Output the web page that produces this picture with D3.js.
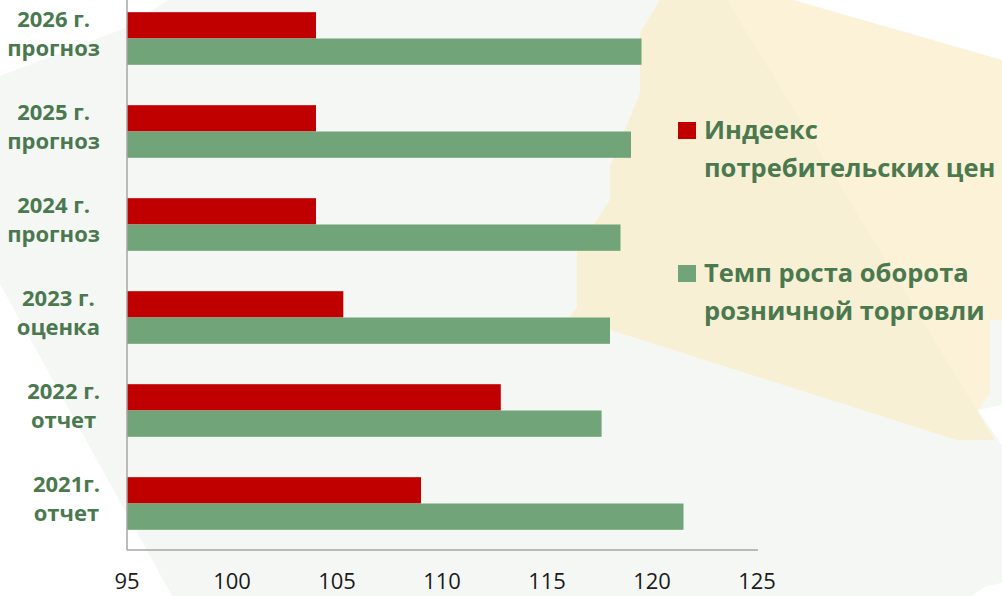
<!DOCTYPE html>
<html>
<head>
<meta charset="utf-8">
<script src="https://cdn.jsdelivr.net/npm/d3@7"></script>
<style>
  html, body { margin: 0; padding: 0; background: #fff; }
  svg { display: block; font-family: "Open Sans", sans-serif; }
</style>
</head>
<body>
<svg id="chart" width="1002" height="596"></svg>
<script>
// categories, top to bottom as drawn
const categories = ["2026 г.|прогноз", "2025 г.|прогноз", "2024 г.|прогноз", "2023 г.|оценка", "2022 г.|отчет", "2021г.|отчет"];
const cpiValues = [104.0, 104.0, 104.0, 105.3, 112.8, 109.0];
const retailValues = [119.5, 119.0, 118.5, 118.0, 117.6, 121.5];
const seriesNames = ["Индеекс|потребительских цен", "Темп роста оборота|розничной торговли"];
const seriesColors = ["#c00000", "#71a479"];
const xTicks = [95, 100, 105, 110, 115, 120, 125];

const svg = d3.select("#chart");
const textColor = "#4b794f";

// background shapes
const bg = svg.append("g");
bg.append("path").attr("fill", "#f5f7f4")
  .attr("d", "M168,0 L1002,0 L1002,596 L172,596 L0,284 L0,76 L125,28 Z");
bg.append("path").attr("fill", "#ffffff").attr("d", "M793,0 L1002,0 L1002,60 Z");
bg.append("path").attr("fill", "#ffffff").attr("d", "M978,410 L1002,445 L1002,405 Z");
bg.append("path").attr("fill", "#ffffff").attr("d", "M972,596 L986,586 L1002,583 L1002,596 Z");
bg.append("path").attr("fill", "#fcf2d7")
  .attr("d", "M660,0 L793,0 L1002,60 L1002,320 L990,320 L990,393 L957,440 L570,317 L577,307 L577,250 L610,200 L610,167 L640,93 L640,33 Z");
bg.append("path").attr("fill", "#f8f0d5")
  .attr("d", "M660,0 L727,0 L995,440 L957,440 L570,317 L577,307 L577,250 L610,200 L610,167 L640,93 L640,33 Z");

const x = d3.scaleLinear().domain([95, 125]).range([127, 757]);
const y = d3.scaleBand().domain(categories).range([-8, 550]).paddingInner(0.434).paddingOuter(0.217);
const sub = d3.scaleBand().domain([0, 1]).range([0, y.bandwidth()]);

const bars = svg.append("g");
[cpiValues, retailValues].forEach((vals, s) => {
  bars.selectAll(null).data(categories).join("rect")
    .attr("x", x(95))
    .attr("y", d => y(d) + sub(s))
    .attr("width", (d, i) => x(vals[i]) - x(95))
    .attr("height", sub.bandwidth())
    .attr("fill", seriesColors[s]);
});

// axes lines
svg.append("line").attr("x1", x(95)).attr("x2", x(95)).attr("y1", 0).attr("y2", 550)
  .attr("stroke", "#a6a6a6").attr("stroke-width", 1.5);
svg.append("line").attr("x1", x(95)).attr("x2", x(125) + 1).attr("y1", 550).attr("y2", 550)
  .attr("stroke", "#a6a6a6").attr("stroke-width", 1.5);

// x tick labels
svg.append("g").selectAll("text").data(xTicks).join("text")
  .attr("x", d => x(d)).attr("y", 589)
  .attr("text-anchor", "middle").attr("font-size", 22).attr("fill", "#1a1a1a")
  .text(d => d);

// category labels, block right-aligned near the axis, lines centered
const catG = svg.append("g").attr("font-size", 22).attr("font-weight", "bold").attr("fill", textColor);
categories.forEach(c => {
  const lines = c.split("|");
  const cy = y(c) + y.bandwidth() / 2;
  const t = lines.map((l, i) => catG.append("text").attr("y", cy + (i === 0 ? -12 : 17)).text(l));
  const w = d3.max(t, n => n.node().getComputedTextLength());
  t.forEach(n => n.attr("x", 100 - w / 2).attr("text-anchor", "middle"));
});

// legend
const legendY = [139, 282];
const leg = svg.append("g").attr("font-size", 25.5).attr("font-weight", "bold").attr("fill", textColor);
seriesNames.forEach((n, s) => {
  leg.append("rect").attr("x", 678).attr("y", legendY[s] - 17).attr("width", 18).attr("height", 17)
    .attr("fill", seriesColors[s]);
  n.split("|").forEach((l, i) => {
    leg.append("text").attr("x", 704).attr("y", legendY[s] + i * 38).text(l);
  });
});
</script>
</body>
</html>
